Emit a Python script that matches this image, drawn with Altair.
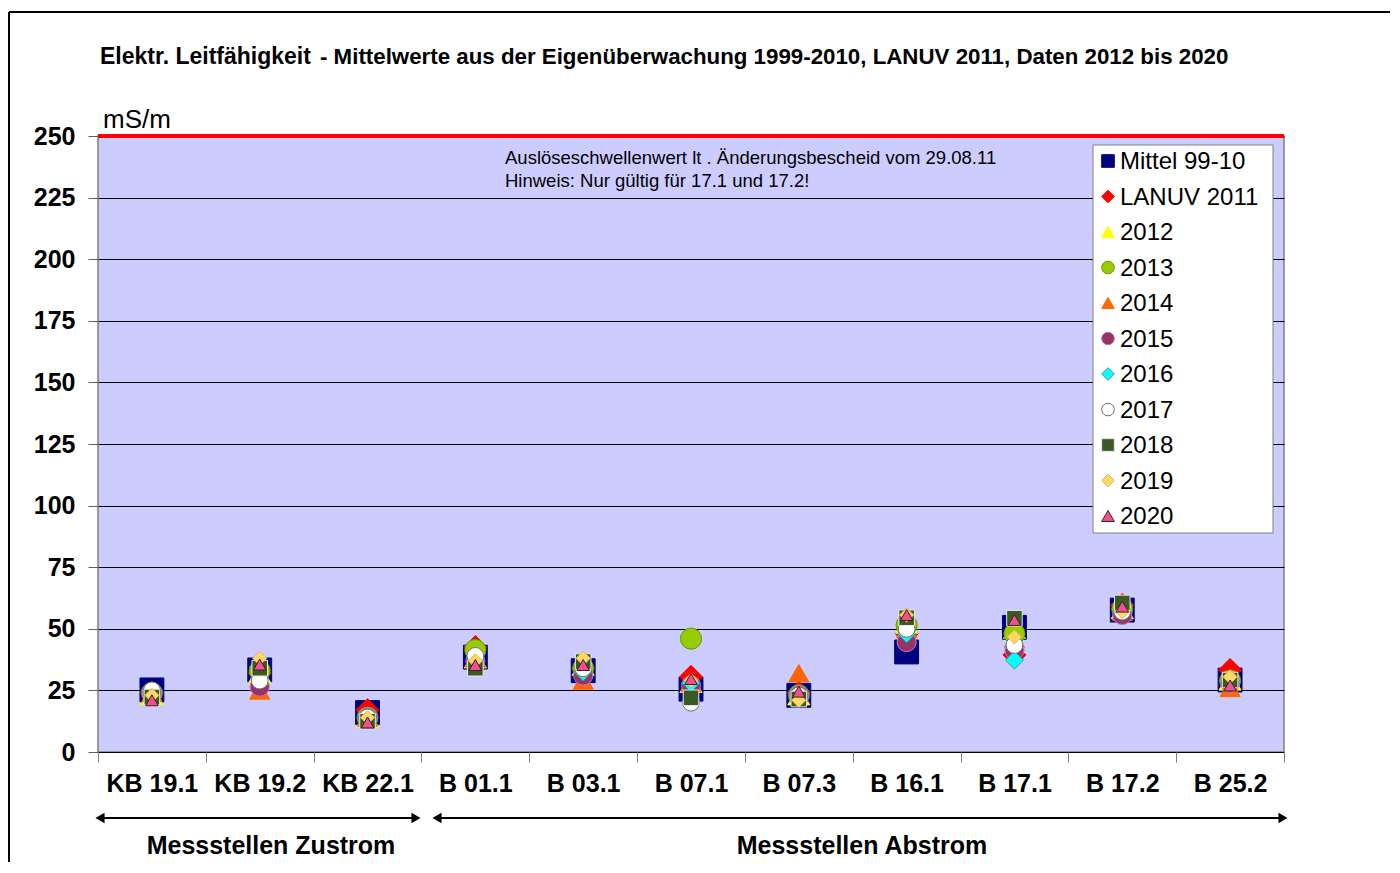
import altair as alt
import pandas as pd

categories = ["KB 19.1", "KB 19.2", "KB 22.1", "B 01.1", "B 03.1", "B 07.1",
              "B 07.3", "B 16.1", "B 17.1", "B 17.2", "B 25.2"]

series_names = ["Mittel 99-10", "LANUV 2011", "2012", "2013", "2014", "2015",
                "2016", "2017", "2018", "2019", "2020"]

mittel_99_10 = [25.2, 33.3, 16.0, 38.5, 33.0, 25.5, 23.0, 40.6, 50.6, 57.6, 29.2]
lanuv_2011 = [24.0, 32.0, 17.0, 42.6, 34.0, 30.5, 24.0, 48.0, 39.4, 59.7, 33.3]
y2012 = [23.0, 32.0, 14.0, 38.0, 35.0, 28.0, 23.0, 52.0, 50.0, 58.0, 29.0]
y2013 = [24.0, 33.0, 14.0, 41.4, 34.0, 46.0, 23.0, 51.5, 48.0, 58.0, 29.0]
y2014 = [24.0, 25.0, 14.0, 38.0, 29.0, 28.0, 32.0, 50.0, 46.0, 57.0, 26.0]
y2015 = [24.0, 26.5, 14.0, 37.0, 31.0, 27.0, 23.0, 44.6, 41.4, 55.6, 28.0]
y2016 = [24.0, 30.0, 14.0, 38.0, 32.5, 28.0, 23.0, 48.0, 37.3, 57.0, 29.0]
y2017 = [25.0, 29.0, 14.0, 39.0, 34.0, 20.0, 23.0, 50.0, 43.4, 57.0, 29.0]
y2018 = [22.3, 34.0, 12.5, 34.0, 36.7, 22.0, 21.5, 54.5, 54.3, 60.5, 29.2]
y2019 = [23.0, 38.0, 14.0, 37.0, 38.0, 29.0, 21.0, 55.6, 46.7, 57.0, 30.5]
y2020 = [21.0, 35.5, 12.0, 35.3, 35.3, 29.6, 24.5, 55.6, 53.6, 59.0, 27.0]

threshold = [250]

all_series = [mittel_99_10, lanuv_2011, y2012, y2013, y2014, y2015,
              y2016, y2017, y2018, y2019, y2020]

fills = ["#000080", "#FF0000", "#FFFF00", "#99CC00", "#FF6600", "#993366",
         "#00FFFF", "#FFFFFF", "#3A5A24", "#FFD966", "#F24F8E"]
strokes = ["#000080", "#FF0000", "#FFFF00", "#669900", "#FF6600", "#B57BC8",
           "#3A9A9A", "#707070", "#E8E8E8", "#E0B850", "#3A2020"]
shapes = ["square", "diamond", "triangle-up", "circle", "triangle-up", "circle",
          "diamond", "circle", "square", "diamond", "triangle-up"]
sizes = [570, 160, 320, 240, 320, 260, 220, 320, 420, 330, 400]

rows = []
for s_i, (name, vals) in enumerate(zip(series_names, all_series)):
    for c, v in zip(categories, vals):
        rows.append({"Messstelle": c, "Serie": name, "Wert": v, "order": s_i})
df = pd.DataFrame(rows)
legend_df = pd.DataFrame({"Serie": series_names})

W, H = 1186, 616
FONT = "Liberation Sans"

fill_enc = alt.Fill("Serie:N", scale=alt.Scale(domain=series_names, range=fills), legend=None)
stroke_enc = alt.Stroke("Serie:N", scale=alt.Scale(domain=series_names, range=strokes), legend=None)
shape_enc = alt.Shape("Serie:N", scale=alt.Scale(domain=series_names, range=shapes), legend=None)

x_enc = alt.X("Messstelle:N", sort=categories,
              scale=alt.Scale(type="band", domain=categories, paddingInner=0, paddingOuter=0),
              axis=alt.Axis(title=None, labelFontSize=25, labelFontWeight="bold", labelFont=FONT,
                            labelColor="black", tickBand="extent", tickSize=10, tickColor="#808080",
                            domain=False, grid=False, labelPadding=9, labelAngle=0))
y_enc = alt.Y("Wert:Q", scale=alt.Scale(domain=[0, 250], nice=False, zero=True),
              axis=alt.Axis(title=None, values=list(range(0, 251, 25)), labelFontSize=25,
                            labelFontWeight="bold", labelFont=FONT, labelColor="black",
                            tickSize=10, tickColor="#606060", domain=False, gridColor="black",
                            gridWidth=1, labelPadding=13))

points = alt.Chart(df).mark_point(filled=True, opacity=1, strokeWidth=1).encode(
    x=x_enc, y=y_enc, fill=fill_enc, stroke=stroke_enc, shape=shape_enc,
    size=alt.Size("Serie:N", scale=alt.Scale(domain=series_names, range=sizes), legend=None),
    order=alt.Order("order:Q"),
)

thr = alt.Chart(pd.DataFrame({"t": threshold})).mark_rule(color="#FF0000", strokeWidth=4).encode(
    y=alt.Y("t:Q", scale=alt.Scale(domain=[0, 250], nice=False), axis=None))

# legend (series list drawn through its own point scale)
leg_y = alt.Y("Serie:N", sort=series_names,
              scale=alt.Scale(type="point", domain=series_names, range=[25, 380], padding=0),
              axis=None)
one = pd.DataFrame({"a": [0]})
leg_box = alt.Chart(one).mark_rect(fill="white", stroke="#808080", strokeWidth=1).encode(
    x=alt.value(995), x2=alt.value(1175), y=alt.value(9), y2=alt.value(397))
leg_sym = alt.Chart(legend_df).mark_point(filled=True, opacity=1, strokeWidth=1, size=160).encode(
    x=alt.value(1010), y=leg_y, fill=fill_enc, stroke=stroke_enc, shape=shape_enc)
leg_txt = alt.Chart(legend_df).mark_text(font=FONT, fontSize=24, align="left", baseline="middle",
                                         color="black", dy=1).encode(
    x=alt.value(1022), y=leg_y, text="Serie:N")


def text_layer(txt, x, y, size, weight="normal", align="left", baseline="middle"):
    return alt.Chart(pd.DataFrame({"t": [txt]})).mark_text(
        font=FONT, fontSize=size, fontWeight=weight, align=align, baseline=baseline,
        color="black").encode(text="t:N", x=alt.value(x), y=alt.value(y))


title1 = text_layer("Elektr. Leitfähigkeit", 2, -79, 23, "bold")
title2 = text_layer("- Mittelwerte aus der Eigenüberwachung 1999-2010, LANUV 2011, Daten 2012 bis 2020",
                    222, -79, 22.3, "bold")
unit = text_layer("mS/m", 5, -16, 26)
note1 = text_layer("Auslöseschwellenwert lt . Änderungsbescheid vom 29.08.11", 407, 22, 18.5)
note2 = text_layer("Hinweis: Nur gültig für 17.1 und 17.2!", 407, 45, 18.5)
zu = text_layer("Messstellen Zustrom", 173, 710, 25, "bold", "center")
ab = text_layer("Messstellen Abstrom", 764, 710, 25, "bold", "center")


def hrule(x1, x2, y, width=2):
    return alt.Chart(one).mark_rule(color="black", strokeWidth=width).encode(
        x=alt.value(x1), x2=alt.value(x2), y=alt.value(y))


def head(x, shape):
    return alt.Chart(one).mark_point(shape=shape, filled=True, color="black",
                                     size=110, opacity=1).encode(x=alt.value(x), y=alt.value(682))


arrow1 = hrule(6, 314, 682)
arrow2 = hrule(343, 1181, 682)
heads = [head(2, "triangle-left"), head(339, "triangle-left"),
         head(318, "triangle-right"), head(1185, "triangle-right")]

frame_left = alt.Chart(one).mark_rule(color="black", strokeWidth=2).encode(
    x=alt.value(-89), y=alt.value(-124), y2=alt.value(H + 112))
frame_top = hrule(-89, W + 106, -124)

chart = alt.layer(points, thr, leg_box, leg_sym, leg_txt,
                  title1, title2, unit, note1, note2, zu, ab,
                  arrow1, arrow2, *heads, frame_left, frame_top).resolve_scale(
    y="independent").properties(
    width=W, height=H,
    autosize=alt.AutoSizeParams(type="none"),
    padding={"left": 90, "top": 128, "right": 108, "bottom": 110},
    background="white",
).configure_view(
    fill="#CCCCFF", stroke="#808080", strokeWidth=1.5
)

chart.save("out.html", embed_options={"renderer": "svg", "actions": False})
